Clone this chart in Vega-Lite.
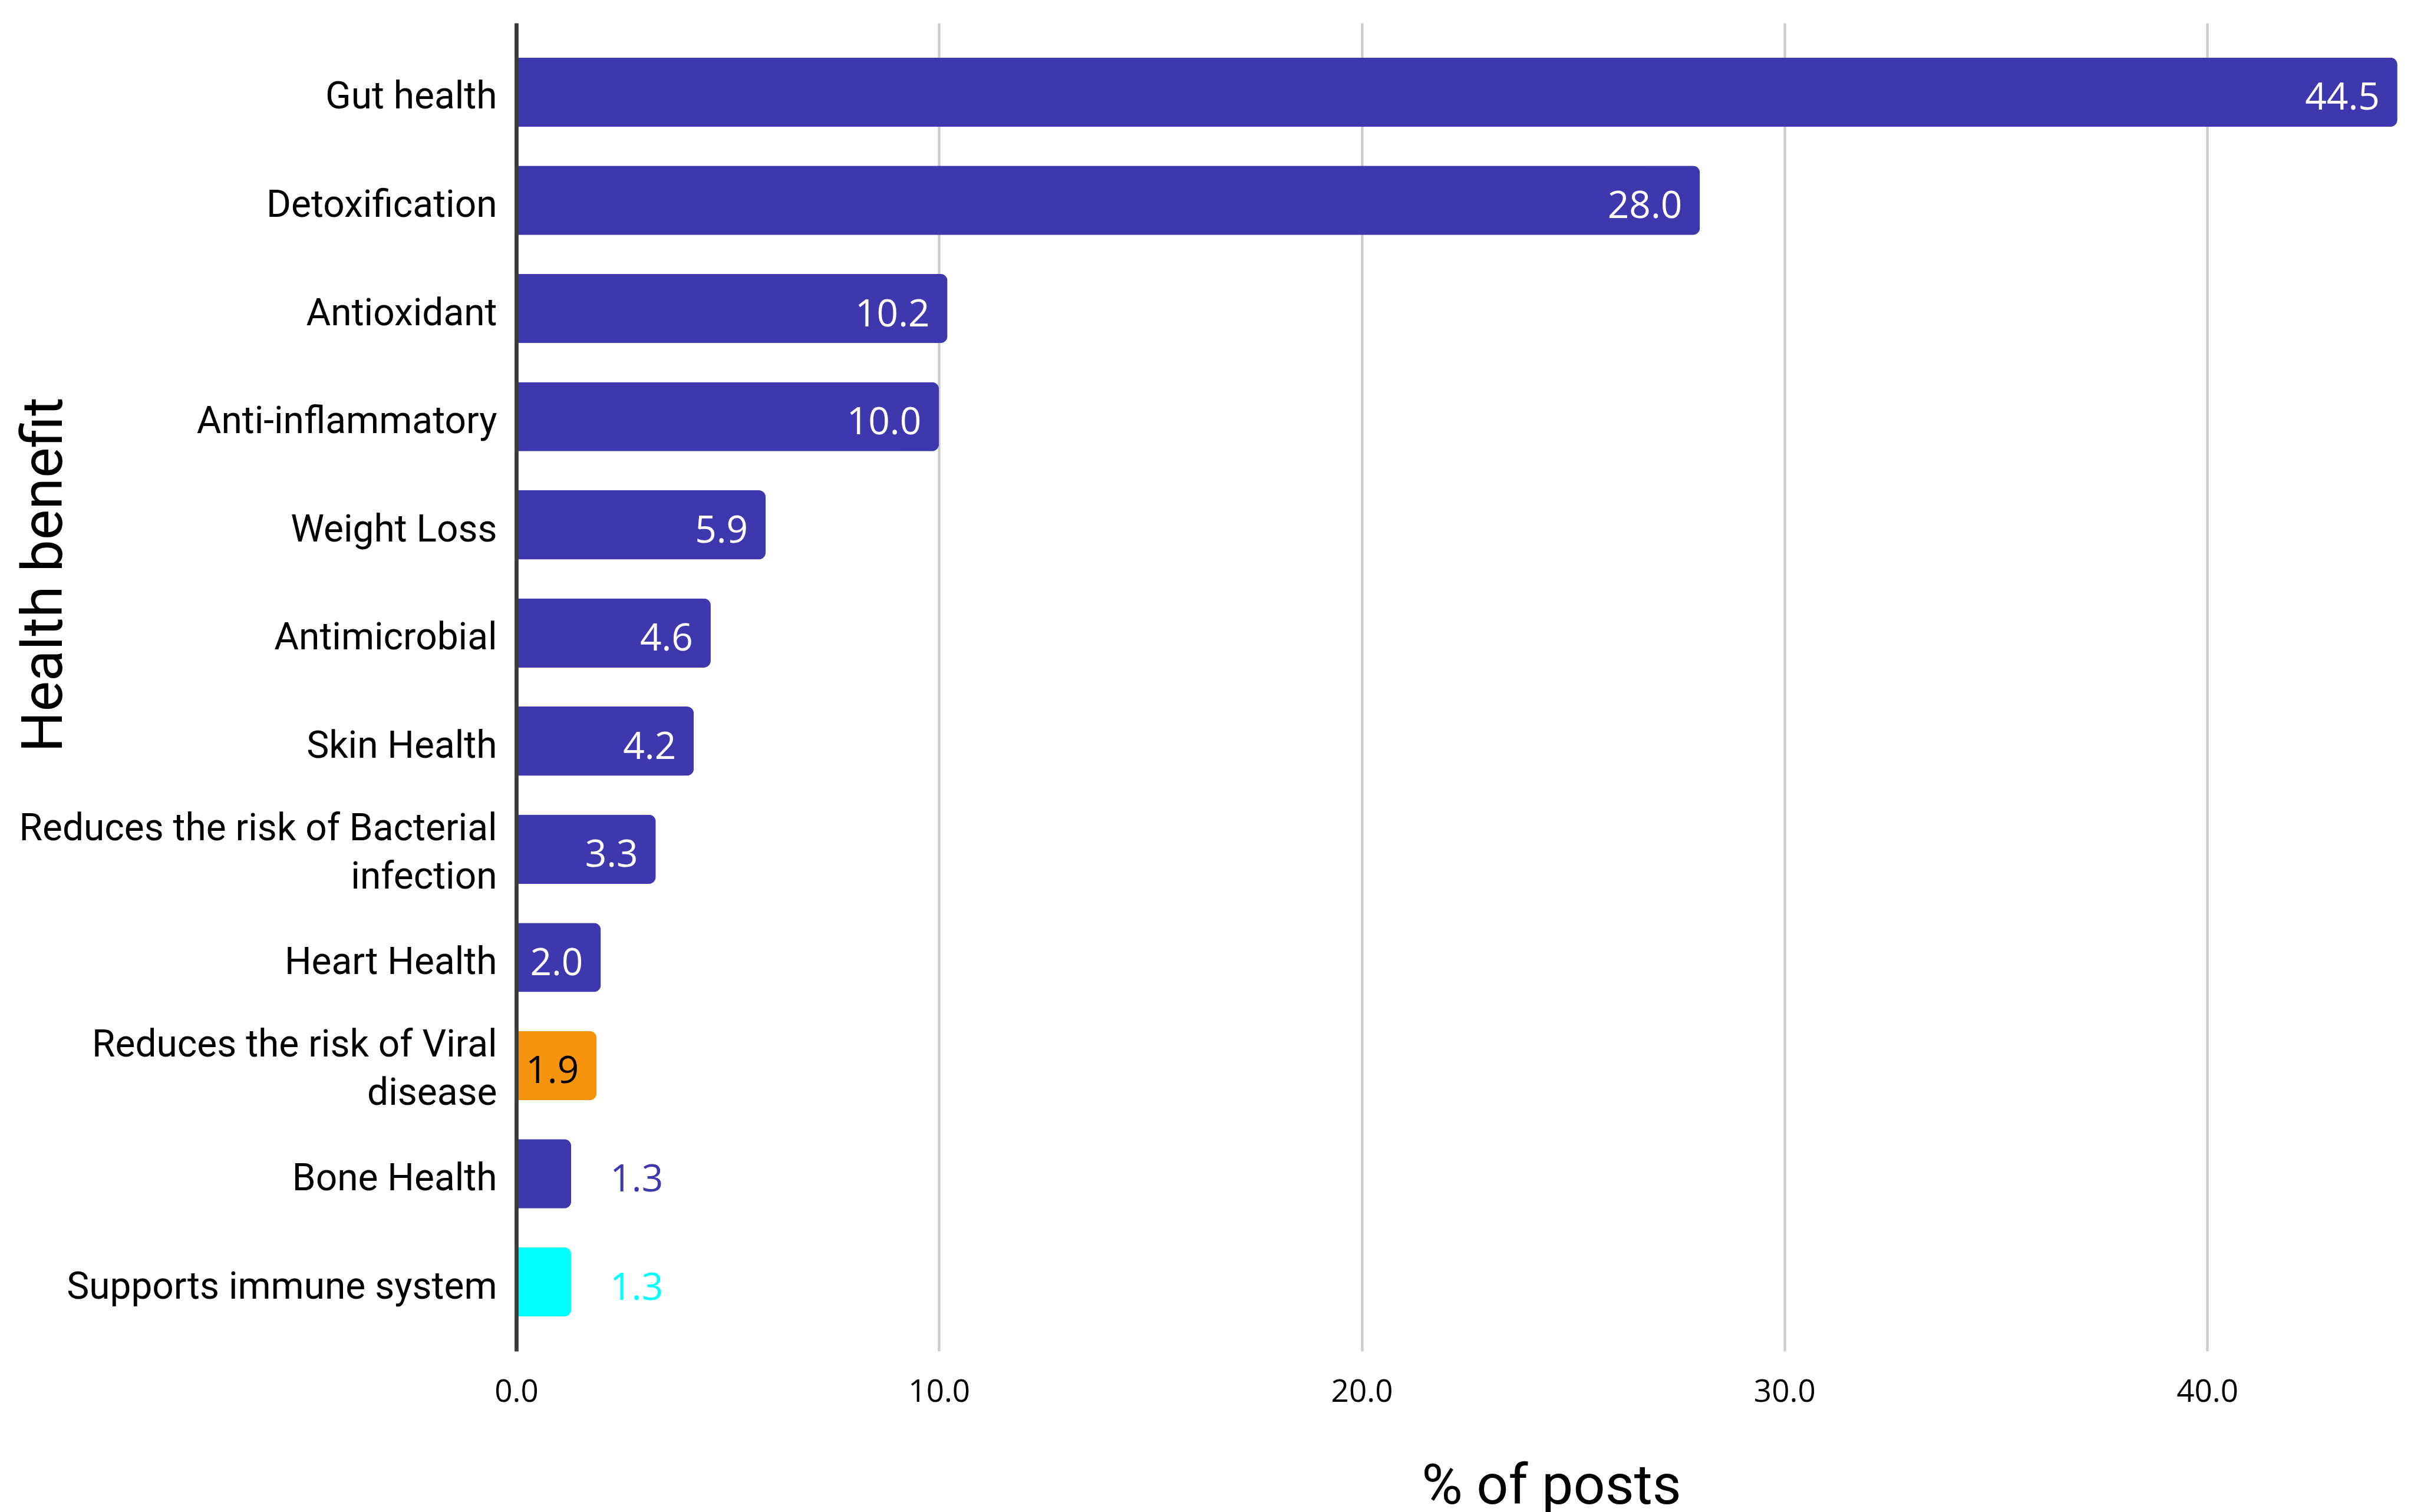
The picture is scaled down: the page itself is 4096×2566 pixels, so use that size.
{
  "$schema": "https://vega.github.io/schema/vega-lite/v6.json",
  "autosize": {"type": "none"},
  "width": 3199,
  "height": 2254,
  "padding": {"left": 876, "top": 39, "right": 21, "bottom": 273},
  "background": "#ffffff",
  "data": {
    "values": [
      {"category": "Gut health", "value": 44.5},
      {"category": "Detoxification", "value": 28.0},
      {"category": "Antioxidant", "value": 10.2},
      {"category": "Anti-inflammatory", "value": 10.0},
      {"category": "Weight Loss", "value": 5.9},
      {"category": "Antimicrobial", "value": 4.6},
      {"category": "Skin Health", "value": 4.2},
      {"category": "Reduces the risk of Bacterial infection", "value": 3.3},
      {"category": "Heart Health", "value": 2.0},
      {"category": "Reduces the risk of Viral disease", "value": 1.9},
      {"category": "Bone Health", "value": 1.3},
      {"category": "Supports immune system", "value": 1.3}
    ]
  },
  "encoding": {
    "y": {
      "field": "category",
      "type": "nominal",
      "sort": ["Gut health", "Detoxification", "Antioxidant", "Anti-inflammatory", "Weight Loss", "Antimicrobial", "Skin Health", "Reduces the risk of Bacterial infection", "Heart Health", "Reduces the risk of Viral disease", "Bone Health", "Supports immune system"],
      "scale": {"paddingInner": 0.36, "paddingOuter": 0.32},
      "axis": {
        "title": "Health benefit",
        "titleFont": "Roboto",
        "titleFontSize": 97,
        "titleFontWeight": "normal",
        "titleColor": "#000000",
        "titleAngle": -90,
        "titleX": -772,
        "titleY": 936,
        "titleAlign": "center",
        "titleBaseline": "alphabetic",
        "labelFont": "Roboto",
        "labelFontSize": 64,
        "labelColor": "#000000",
        "labelPadding": 33,
        "labelLimit": 2000,
        "labelLineHeight": 82,
        "labelOffset": {
          "condition": {"test": "datum.value === 'Reduces the risk of Bacterial infection' || datum.value === 'Reduces the risk of Viral disease'", "value": -34},
          "value": 9
        },
        "labelExpr": "datum.value === 'Reduces the risk of Bacterial infection' ? ['Reduces the risk of Bacterial', 'infection'] : datum.value === 'Reduces the risk of Viral disease' ? ['Reduces the risk of Viral', 'disease'] : datum.value",
        "ticks": false,
        "tickSize": 0,
        "domainColor": "#3a3a3a",
        "domainWidth": 6.8,
        "grid": false,
        "zindex": 1
      }
    },
    "x": {
      "field": "value",
      "type": "quantitative",
      "scale": {"domain": [0, 44.6], "nice": false},
      "axis": {
        "title": "% of posts",
        "titleFont": "Roboto",
        "titleFontSize": 95,
        "titleFontWeight": "normal",
        "titleColor": "#000000",
        "titleX": 1756,
        "titleY": 258,
        "titleAlign": "center",
        "titleBaseline": "alphabetic",
        "values": [0, 10, 20, 30, 40],
        "format": ".1f",
        "labelFont": "Open Sans",
        "labelFontSize": 53,
        "labelColor": "#000000",
        "labelBaseline": "alphabetic",
        "labelPadding": 85,
        "labelFlush": false,
        "labelOverlap": false,
        "ticks": false,
        "tickSize": 0,
        "domain": false,
        "grid": true,
        "gridColor": "#cdcdcd",
        "gridWidth": 4.4
      }
    }
  },
  "layer": [
    {
      "mark": {"type": "bar", "cornerRadiusEnd": 12},
      "encoding": {
        "color": {
          "field": "category",
          "type": "nominal",
          "scale": {
            "domain": ["Gut health", "Detoxification", "Antioxidant", "Anti-inflammatory", "Weight Loss", "Antimicrobial", "Skin Health", "Reduces the risk of Bacterial infection", "Heart Health", "Reduces the risk of Viral disease", "Bone Health", "Supports immune system"],
            "range": ["#3e38af", "#3e38af", "#3e38af", "#3e38af", "#3e38af", "#3e38af", "#3e38af", "#3e38af", "#3e38af", "#f7940d", "#3e38af", "#00ffff"]
          },
          "legend": null
        }
      }
    },
    {
      "transform": [{"filter": "datum.value >= 1.5"}],
      "mark": {"type": "text", "align": "right", "baseline": "middle", "dx": -30, "dy": 11, "font": "Open Sans", "fontSize": 64},
      "encoding": {
        "text": {"field": "value", "type": "quantitative", "format": ".1f"},
        "color": {
          "condition": {"test": "datum.category === 'Reduces the risk of Viral disease'", "value": "#000000"},
          "value": "#ffffff"
        }
      }
    },
    {
      "transform": [{"filter": "datum.value < 1.5"}],
      "mark": {"type": "text", "align": "left", "baseline": "middle", "dx": 66, "dy": 11, "font": "Open Sans", "fontSize": 64},
      "encoding": {
        "text": {"field": "value", "type": "quantitative", "format": ".1f"},
        "color": {"field": "category", "type": "nominal", "legend": null}
      }
    }
  ],
  "config": {"view": {"stroke": null}}
}
